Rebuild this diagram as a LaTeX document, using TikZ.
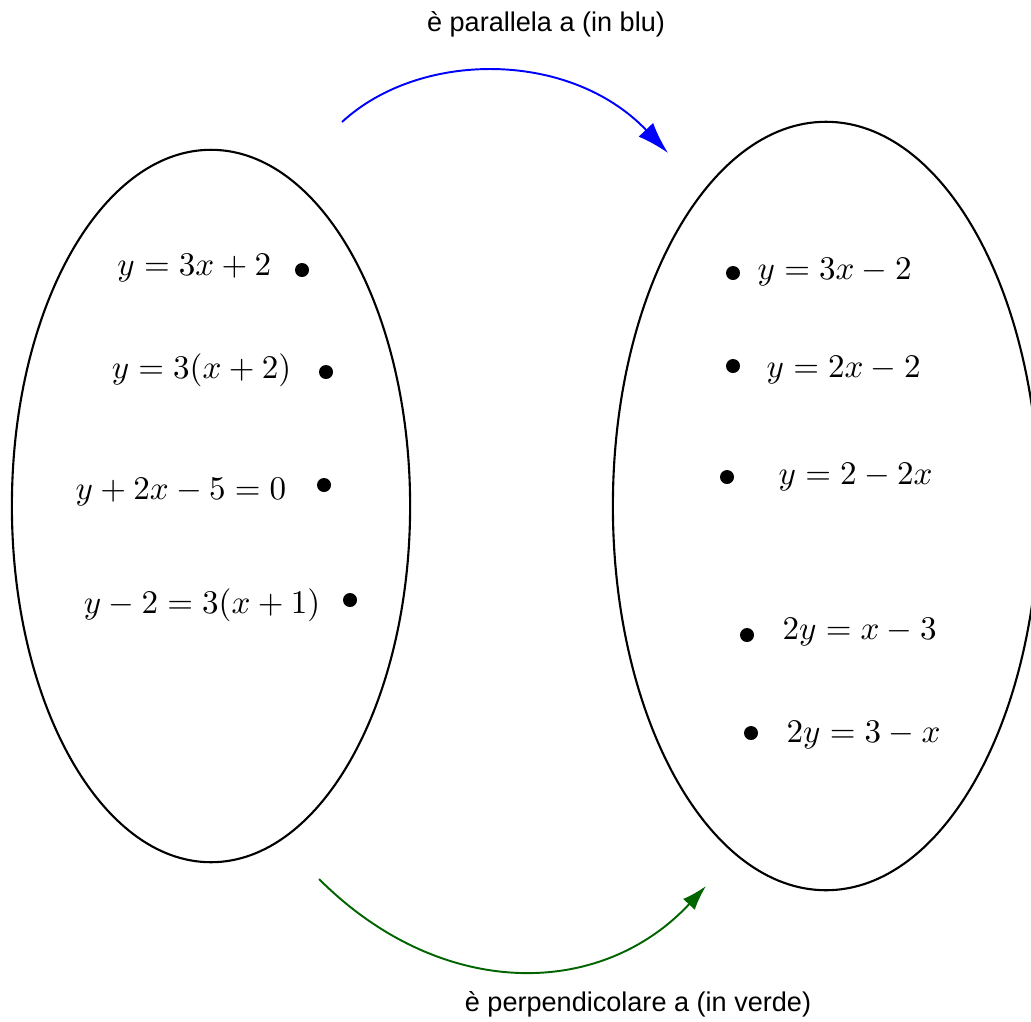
\documentclass[tikz,border=0pt]{standalone}
\usepackage{fontspec}
\setsansfont{Liberation Sans}
\usepackage{amsmath}
\usepackage{graphicx}
\usepackage{tikz}
\usetikzlibrary{arrows.meta, positioning}
\definecolor{parblue}{RGB}{0,0,255}
\definecolor{perpgreen}{RGB}{0,100,0}
\newcommand{\eqtext}[1]{\scalebox{0.94}{$#1$}}
\tikzset{
  setline/.style={draw=black, line width=0.6pt},
  dot/.style={circle, fill=black, inner sep=0pt, minimum size=0.14cm},
  eqn/.style={font=\fontsize{10}{12}\selectfont, inner sep=0pt},
  caption/.style={font=\sffamily\fontsize{7.7}{9}\selectfont, inner sep=0pt},
  bluearrow/.style={-{Latex[length=0.32cm, width=0.2cm]}, line width=0.55pt, color=parblue},
  greenarrow/.style={-{Latex[length=0.25cm, width=0.16cm]}, line width=0.55pt, color=perpgreen}
}

\begin{document}
\begin{tikzpicture}[x=0.01cm, y=-0.01cm]
    \useasboundingbox (0,0) rectangle (1031,1021);

    % the two sets
    \draw[setline] (211,506) ellipse [x radius=1.99cm, y radius=3.56cm];
    \draw[setline] (826,506) ellipse [x radius=2.13cm, y radius=3.84cm];

    % left set
    \node[dot] (l1) at (302,270) {};
    \node[dot] (l2) at (326,372) {};
    \node[dot] (l3) at (324,485) {};
    \node[dot] (l4) at (350,600) {};
    \node[eqn, anchor=east] (el1) at (272,268) {\eqtext{y=3x+2}};
    \node[eqn, anchor=east] (el2) at (292,370) {\eqtext{y=3(x+2)}};
    \node[eqn, anchor=east] (el3) at (287,492) {\eqtext{y+2x-5=0}};
    \node[eqn, anchor=east] (el4) at (321,605) {\eqtext{y-2=3(x+1)}};

    % right set
    \node[dot] (r1) at (733,273) {};
    \node[dot] (r2) at (733,366) {};
    \node[dot] (r3) at (727,477) {};
    \node[dot] (r4) at (747,635) {};
    \node[dot] (r5) at (751,733) {};
    \node[eqn, anchor=west] (er1) at (757,272) {\eqtext{y=3x-2}};
    \node[eqn, anchor=west] (er2) at (766,370) {\eqtext{y=2x-2}};
    \node[eqn, anchor=west] (er3) at (778,477) {\eqtext{y=2-2x}};
    \node[eqn, anchor=west] (er4) at (782,632) {\eqtext{2y=x-3}};
    \node[eqn, anchor=west] (er5) at (786,735) {\eqtext{2y=3-x}};

    % relations
    \coordinate (pstart) at (342,122);
    \coordinate (pend) at (668,153);
    \coordinate (qstart) at (319,879);
    \coordinate (qend) at (706,886);
    \draw[bluearrow] (pstart) .. controls (420,50) and (570,50) .. (pend);
    \draw[greenarrow] (qstart) .. controls (440,1000) and (600,1000) .. (qend);
    \node[caption] (par) at (546,24) {è parallela a (in blu)};
    \node[caption] (perp) at (638,1004) {è perpendicolare a (in verde)};
  \end{tikzpicture}
\end{document}
